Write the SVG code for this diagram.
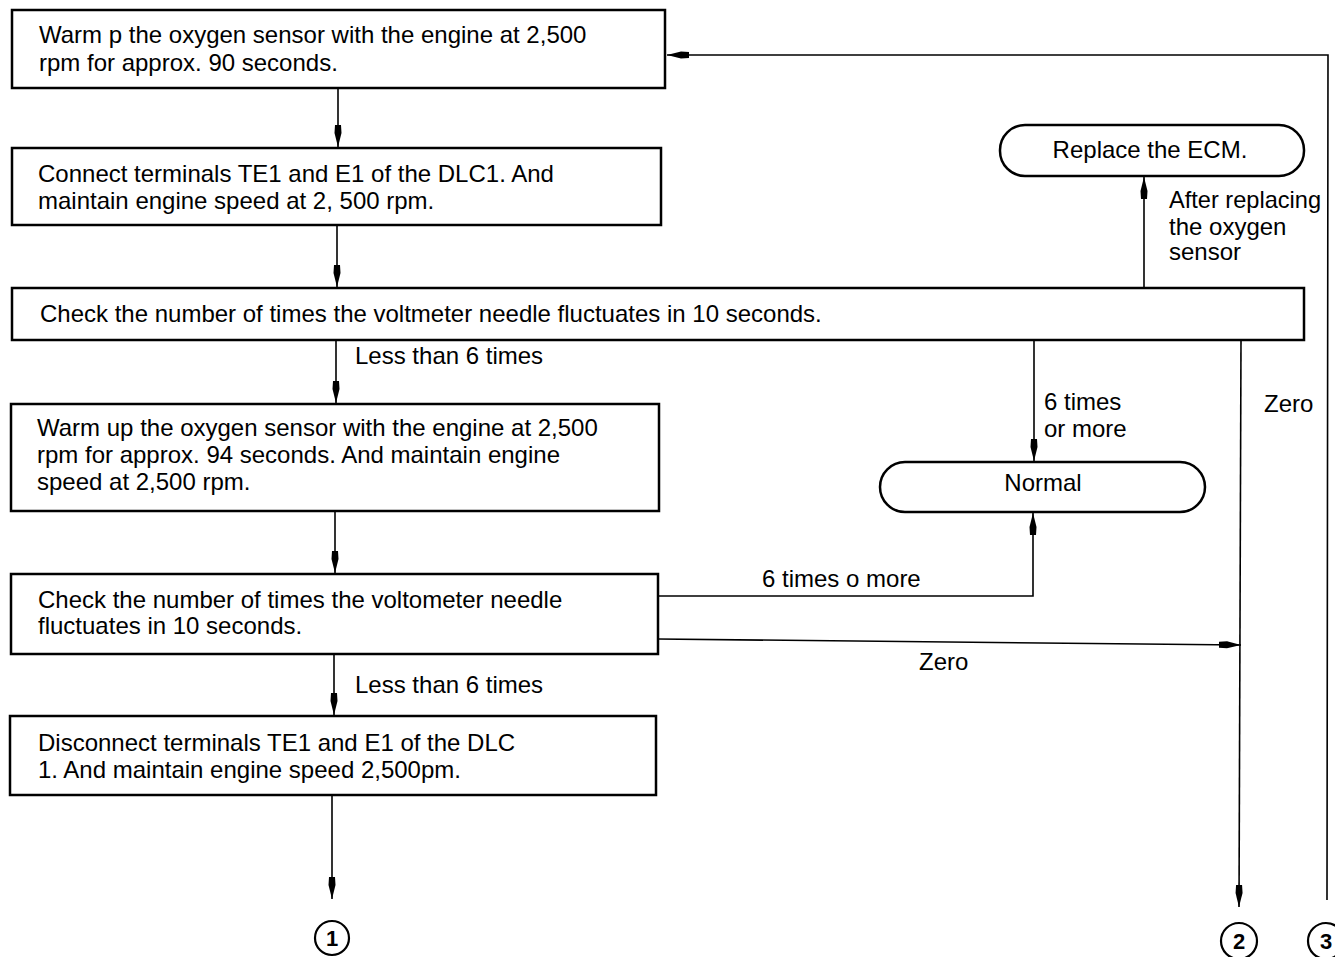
<svg xmlns="http://www.w3.org/2000/svg" width="1335" height="957" viewBox="0 0 1335 957">
<style>
.box{fill:#fff;stroke:#000;stroke-width:2.5}
.t{font-family:"Liberation Sans",Arial,sans-serif;font-size:24px;fill:#000}
.c{stroke:#000;stroke-width:1.6;fill:none}
.circ{fill:#fff;stroke:#000;stroke-width:2.2}
.ct{font-family:"Liberation Sans",Arial,sans-serif;font-size:22px;font-weight:bold;fill:#000;text-anchor:middle}
</style>
<defs>
<marker id="ah" viewBox="0 0 22 8" refX="22" refY="4" markerWidth="22" markerHeight="8" markerUnits="userSpaceOnUse" orient="auto">
<path d="M0,1 L8,0.5 L22,4 L8,7.5 L0,7 Z" fill="#000"/>
</marker>
</defs>
<g id="connectors">
<line class="c" x1="338" y1="88" x2="338" y2="147" marker-end="url(#ah)"/>
<line class="c" x1="337" y1="225" x2="337" y2="287" marker-end="url(#ah)"/>
<line class="c" x1="336" y1="340" x2="336" y2="403" marker-end="url(#ah)"/>
<line class="c" x1="335" y1="511" x2="335" y2="573" marker-end="url(#ah)"/>
<line class="c" x1="334" y1="654" x2="334" y2="715" marker-end="url(#ah)"/>
<line class="c" x1="332" y1="795" x2="332" y2="899" marker-end="url(#ah)"/>
<line class="c" x1="1034" y1="340" x2="1034" y2="461" marker-end="url(#ah)"/>
<polyline class="c" points="658,596 1033,596 1033,513" marker-end="url(#ah)"/>
<line class="c" x1="658" y1="639" x2="1241" y2="645" marker-end="url(#ah)"/>
<line class="c" x1="1241" y1="340" x2="1239" y2="907" marker-end="url(#ah)"/>
<line class="c" x1="1144" y1="289" x2="1144" y2="177" marker-end="url(#ah)"/>
<polyline class="c" points="1327,900 1328,55 667,55" marker-end="url(#ah)"/>
<text class="t" x="355" y="364">Less than 6 times</text>
<text class="t" x="355" y="693">Less than 6 times</text>
<text class="t" x="1044" y="410">6 times</text>
<text class="t" x="1044" y="437">or more</text>
<text class="t" x="762" y="587">6 times o more</text>
<text class="t" x="919" y="670">Zero</text>
<text class="t" x="1264" y="412">Zero</text>
<text class="t" x="1169" y="208" textLength="152" lengthAdjust="spacingAndGlyphs">After replacing</text>
<text class="t" x="1169" y="235">the oxygen</text>
<text class="t" x="1169" y="260">sensor</text>
</g>
<g id="n1">
<rect class="box" x="12" y="10" width="653" height="78"/>
<text class="t" x="39" y="43">Warm p the oxygen sensor with the engine at 2,500</text>
<text class="t" x="39" y="71">rpm for approx. 90 seconds.</text>
</g>
<g id="n2">
<rect class="box" x="12" y="148" width="649" height="77"/>
<text class="t" x="38" y="182">Connect terminals TE1 and E1 of the DLC1. And</text>
<text class="t" x="38" y="209">maintain engine speed at 2, 500 rpm.</text>
</g>
<g id="n3">
<rect class="box" x="12" y="288" width="1292" height="52"/>
<text class="t" x="40" y="322">Check the number of times the voltmeter needle fluctuates in 10 seconds.</text>
</g>
<g id="n4">
<rect class="box" x="11" y="404" width="648" height="107"/>
<text class="t" x="37" y="436">Warm up the oxygen sensor with the engine at 2,500</text>
<text class="t" x="37" y="463">rpm for approx. 94 seconds. And maintain engine</text>
<text class="t" x="37" y="490">speed at 2,500 rpm.</text>
</g>
<g id="n5">
<rect class="box" x="11" y="574" width="647" height="80"/>
<text class="t" x="38" y="608">Check the number of times the voltometer needle</text>
<text class="t" x="38" y="634">fluctuates in 10 seconds.</text>
</g>
<g id="n6">
<rect class="box" x="10" y="716" width="646" height="79"/>
<text class="t" x="38" y="751">Disconnect terminals TE1 and E1 of the DLC</text>
<text class="t" x="38" y="778">1. And maintain engine speed 2,500pm.</text>
</g>
<g id="normal">
<rect class="box" x="880" y="462" width="325" height="50" rx="25" ry="25"/>
<text class="t" x="1043" y="491" text-anchor="middle">Normal</text>
</g>
<g id="ecm">
<rect class="box" x="1000" y="125" width="304" height="51" rx="25" ry="25"/>
<text class="t" x="1150" y="158" text-anchor="middle">Replace the ECM.</text>
</g>
<g id="c1">
<circle class="circ" cx="332" cy="938" r="17"/>
<text class="ct" x="332" y="946">1</text>
</g>
<g id="c2">
<circle class="circ" cx="1239" cy="941" r="18"/>
<text class="ct" x="1239" y="949">2</text>
</g>
<g id="c3">
<circle class="circ" cx="1326" cy="941" r="18"/>
<text class="ct" x="1326" y="949">3</text>
</g>
</svg>
